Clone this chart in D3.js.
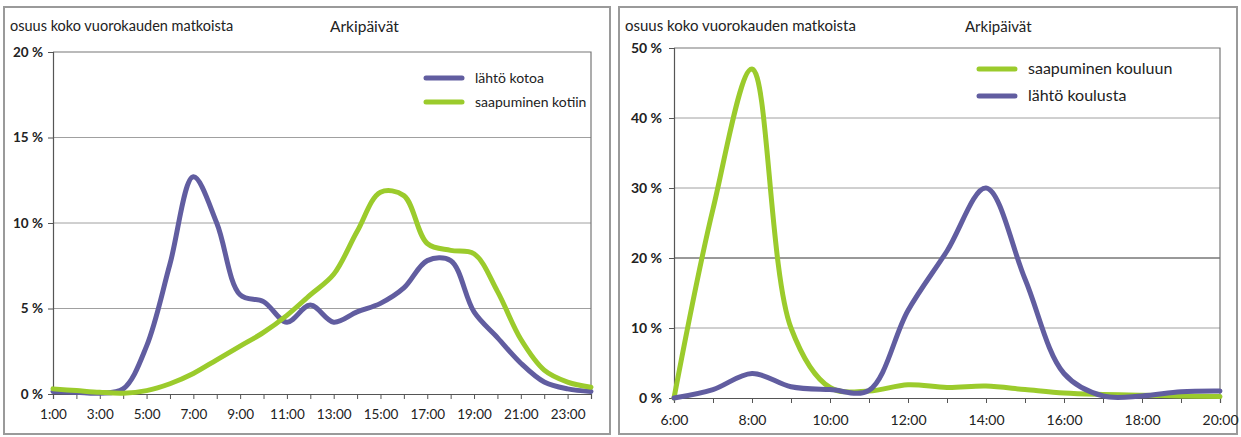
<!DOCTYPE html>
<html>
<head>
<meta charset="utf-8" />
<title>Arkipäivät</title>
<style>
html, body { margin: 0; padding: 0; background: #fff; }
svg text { font-family: Lato, "Open Sans", sans-serif; fill: #222; }
</style>
</head>
<body>
<script src="https://d3js.org/d3.v7.min.js"></script>
<script>
// ---- vasen kuva: kotoa / kotiin ----
var leftHours = [1,2,3,4,5,6,7,8,9,10,11,12,13,14,15,16,17,18,19,20,21,22,23,24];
var lahtoKotoa = [0.15,0.1,0.05,0.3,2.8,7.6,12.7,10.0,5.8,5.4,4.2,5.2,4.2,4.8,5.3,6.2,7.8,7.8,4.8,3.3,1.8,0.7,0.3,0.15];
var saapuminenKotiin = [0.3,0.2,0.1,0.05,0.2,0.6,1.2,2.0,2.8,3.6,4.6,5.8,7.0,9.5,11.8,11.6,8.8,8.4,8.2,6.0,3.2,1.4,0.7,0.4];
var leftYTicks = [0,5,10,15,20];
var leftXLabels = [1,3,5,7,9,11,13,15,17,19,21,23];

// ---- oikea kuva: kouluun / koulusta ----
var rightHours = [6,7,8,9,10,11,12,13,14,15,16,17,18,19,20];
var saapuminenKouluun = [0,27,47,10,1.5,1.0,1.9,1.5,1.7,1.2,0.7,0.5,0.4,0.3,0.2];
var lahtoKoulusta = [0,1.2,3.5,1.6,1.2,1.1,12.5,21,30,17,3.5,0.3,0.3,0.9,1.0];
var rightYTicks = [0,10,20,30,40,50];
var rightXLabels = [6,8,10,12,14,16,18,20];

var purple = "#615da0";
var green = "#9bcb2c";

var svg = d3.select("body").append("svg")
  .attr("width", 1241)
  .attr("height", 437);

function drawPanel(p) {
  var g = svg.append("g");

  // reunus
  g.append("rect")
    .attr("x", p.box[0]).attr("y", p.box[1])
    .attr("width", p.box[2]).attr("height", p.box[3])
    .attr("fill", "none").attr("stroke", "#9a9a9a").attr("stroke-width", 2);

  var x = d3.scaleLinear().domain(p.xDomain).range([p.left, p.right]);
  var y = d3.scaleLinear().domain(p.yDomain).range([p.bottom, p.top]);

  // ruudukko
  g.selectAll(".grid").data(p.yTicks.slice(1, -1)).enter().append("line")
    .attr("x1", p.left).attr("x2", p.right)
    .attr("y1", function(d) { return y(d); }).attr("y2", function(d) { return y(d); })
    .attr("stroke", function(d) { return d == p.darkGrid ? "#333" : "#a0a0a0"; })
    .attr("stroke-width", 1);

  // ylä- ja oikea reuna
  g.append("path")
    .attr("d", "M" + p.left + "," + y(p.yDomain[1]) + "H" + p.right + "V" + p.bottom)
    .attr("fill", "none").attr("stroke", "#777").attr("stroke-width", 1.2);

  var yAxis = d3.axisLeft(y).tickValues(p.yTicks)
    .tickFormat(function(d) { return d + " %"; })
    .tickSize(5).tickPadding(p.yPad);
  var ya = g.append("g").attr("transform", "translate(" + p.left + ",0)").call(yAxis);

  var xAxis = d3.axisBottom(x).tickValues(p.hours)
    .tickFormat(function(d) { return p.xLabels.indexOf(d) >= 0 ? d + ":00" : ""; })
    .tickSize(5).tickPadding(p.xPad);
  var xa = g.append("g").attr("transform", "translate(0," + p.bottom + ")").call(xAxis);

  [ya, xa].forEach(function(a) {
    a.select(".domain").attr("stroke", "#555").attr("stroke-width", 1.2);
    a.selectAll(".tick line").attr("stroke", "#555");
    a.selectAll("text").style("font-size", p.tickSize).style("fill", "#222");
  });
  ya.selectAll("text").style("font-weight", "bold");

  var line = d3.line()
    .x(function(d) { return x(d[0]); })
    .y(function(d) { return y(d[1]); })
    .curve(d3.curveCatmullRom.alpha(0.5));

  p.series.forEach(function(s) {
    g.append("path")
      .datum(p.hours.map(function(h, i) { return [h, s.values[i]]; }))
      .attr("d", line)
      .attr("fill", "none").attr("stroke", s.color)
      .attr("stroke-width", 5).attr("stroke-linejoin", "round").attr("stroke-linecap", "round");
  });

  // selite
  p.series.forEach(function(s, i) {
    var ly = p.legend[1] + i * p.legendGap;
    g.append("line")
      .attr("x1", p.legend[0]).attr("x2", p.legend[0] + 36)
      .attr("y1", ly).attr("y2", ly)
      .attr("stroke", s.color).attr("stroke-width", 5).attr("stroke-linecap", "round");
    g.append("text")
      .attr("x", p.legend[0] + 49).attr("y", ly + 5)
      .style("font-size", p.legendSize)
      .text(s.name);
  });

  // otsikot
  g.append("text").attr("x", p.box[0] + 6).attr("y", 31)
    .style("font-size", p.subSize).text("osuus koko vuorokauden matkoista");
  g.append("text").attr("x", p.titleX).attr("y", 32)
    .style("font-size", p.titleSize).text("Arkipäivät");
}

drawPanel({
  box: [4, 7, 606, 427],
  left: 53, right: 591, top: 52, bottom: 394,
  xDomain: [1, 24], yDomain: [0, 20],
  hours: leftHours, xLabels: leftXLabels, yTicks: leftYTicks, yPad: 5, xPad: 10,
  tickSize: "13.5px", legendSize: "14px", subSize: "14.5px",
  darkGrid: null,
  legend: [426, 78], legendGap: 24,
  titleX: 330, titleSize: "15.5px",
  series: [
    { name: "lähtö kotoa", values: lahtoKotoa, color: purple },
    { name: "saapuminen kotiin", values: saapuminenKotiin, color: green }
  ]
});

drawPanel({
  box: [619, 7, 618, 427],
  left: 674, right: 1220, top: 48, bottom: 398,
  xDomain: [6, 20], yDomain: [0, 50],
  hours: rightHours, xLabels: rightXLabels, yTicks: rightYTicks, yPad: 7, xPad: 12,
  tickSize: "14px", legendSize: "16px", subSize: "15px",
  darkGrid: 20,
  legend: [979, 69], legendGap: 27,
  titleX: 965, titleSize: "15px",
  series: [
    { name: "saapuminen kouluun", values: saapuminenKouluun, color: green },
    { name: "lähtö koulusta", values: lahtoKoulusta, color: purple }
  ]
});
</script>
</body>
</html>
